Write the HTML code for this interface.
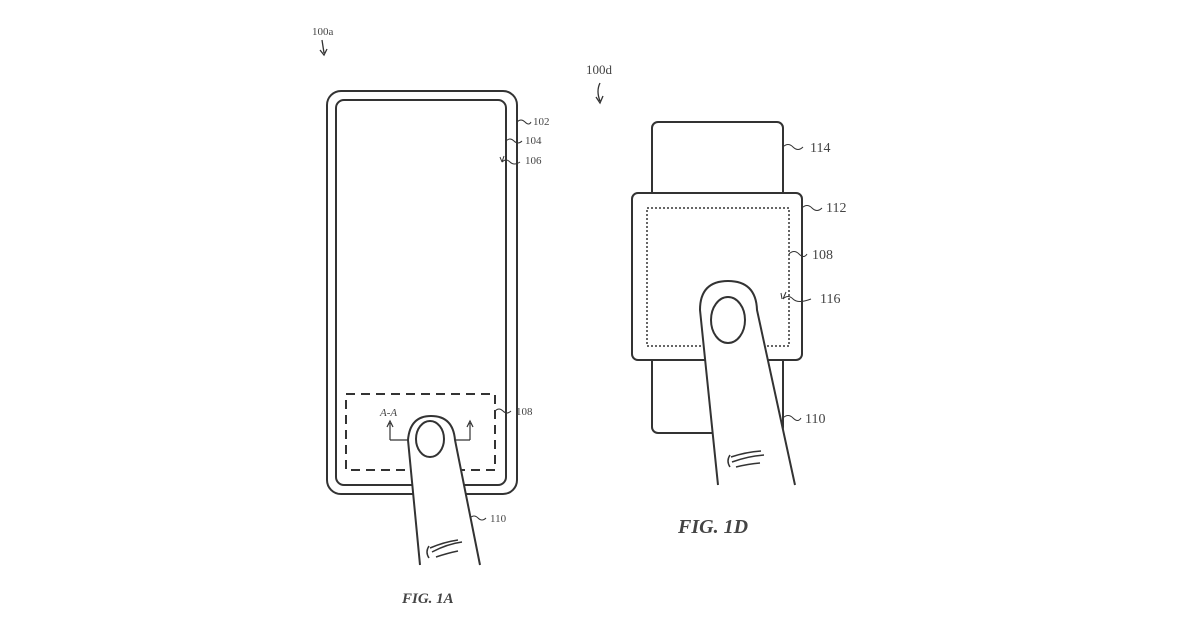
<!DOCTYPE html>
<html><head><style>body{margin:0;background:#fff}svg{display:block}text{font-family:"Liberation Serif",serif;fill:#444}</style></head><body>
<svg width="1200" height="627" viewBox="0 0 1200 627" fill="none" stroke="#333" stroke-width="2">
<!-- FIG 1A -->
<text x="312" y="35" font-size="11" stroke="none">100a</text>
<path d="M322 40 L324 53 M320 50 L324 55 L327 49" stroke-width="1.3"/>
<rect x="327" y="91" width="190" height="403" rx="14"/>
<rect x="336" y="100" width="170" height="385" rx="8"/>
<rect x="346" y="394" width="149" height="76" stroke-dasharray="9 6"/>
<path d="M517 122 q4 -4 8 0 t6 0" stroke-width="1"/><text x="533" y="125" font-size="11" stroke="none">102</text>
<path d="M506 141 q4 -4 8 0 t8 0" stroke-width="1"/><text x="525" y="144" font-size="11" stroke="none">104</text>
<path d="M500 157 l2 5 M504 156 l-2 6 q4 -4 8 0 t10 0" stroke-width="1"/><text x="525" y="164" font-size="11" stroke="none">106</text>
<path d="M495 411 q4 -4 8 0 t8 0" stroke-width="1"/><text x="516" y="415" font-size="11" stroke="none">108</text>
<text x="380" y="416" font-size="11" font-style="italic" stroke="none">A-A</text>
<path d="M390 440 V423 M387 427 L390 421 L393 427 M390 440 H410 M470 440 V423 M467 427 L470 421 L473 427 M470 440 H453" stroke-width="1.2"/>
<path d="M420 565 L408 440 Q410 416 431 416 Q453 416 455 440 L480 565" fill="#fff"/>
<ellipse cx="430" cy="439" rx="14" ry="18"/>
<path d="M432 552 q15 -8 30 -10 M430 548 q14 -6 28 -8 M436 557 q12 -4 22 -6 M429 546 q-4 6 0 12" stroke-width="1.5"/>
<path d="M470 518 q4 -4 8 0 t8 0" stroke-width="1"/><text x="490" y="522" font-size="11" stroke="none">110</text>
<text x="402" y="603" font-size="15" font-weight="bold" font-style="italic" stroke="none">FIG. 1A</text>
<!-- FIG 1D -->
<text x="586" y="74" font-size="13" stroke="none">100d</text>
<path d="M600 83 q-4 8 0 18 M596 97 L600 103 L603 96" stroke-width="1.3"/>
<rect x="652" y="122" width="131" height="100" rx="6"/>
<rect x="652" y="330" width="131" height="103" rx="6"/>
<rect x="632" y="193" width="170" height="167" rx="6" fill="#fff"/>
<rect x="647" y="208" width="142" height="138" stroke-dasharray="2 2" stroke-width="1.5"/>
<path d="M783 147 q5 -5 10 0 t10 0" stroke-width="1"/><text x="810" y="152" font-size="14" stroke="none">114</text>
<path d="M802 208 q5 -5 10 0 t10 0" stroke-width="1"/><text x="826" y="212" font-size="14" stroke="none">112</text>
<path d="M789 254 q5 -5 10 0 t8 0" stroke-width="1"/><text x="812" y="259" font-size="14" stroke="none">108</text>
<path d="M781 293 l1 6 M786 292 l-3 7 q5 -5 10 0 t18 0" stroke-width="1"/><text x="820" y="303" font-size="14" stroke="none">116</text>
<path d="M783 418 q5 -5 10 0 t8 0" stroke-width="1"/><text x="805" y="423" font-size="14" stroke="none">110</text>
<path d="M718 485 L700 310 Q700 281 728 281 Q756 281 757 310 L795 485" fill="#fff"/>
<ellipse cx="728" cy="320" rx="17" ry="23"/>
<path d="M732 462 q16 -6 32 -7 M731 457 q15 -5 30 -6 M736 467 q12 -3 24 -4 M730 455 q-4 6 0 12" stroke-width="1.5"/>
<text x="678" y="533" font-size="20" font-weight="bold" font-style="italic" stroke="none">FIG. 1D</text>
</svg>
</body></html>
